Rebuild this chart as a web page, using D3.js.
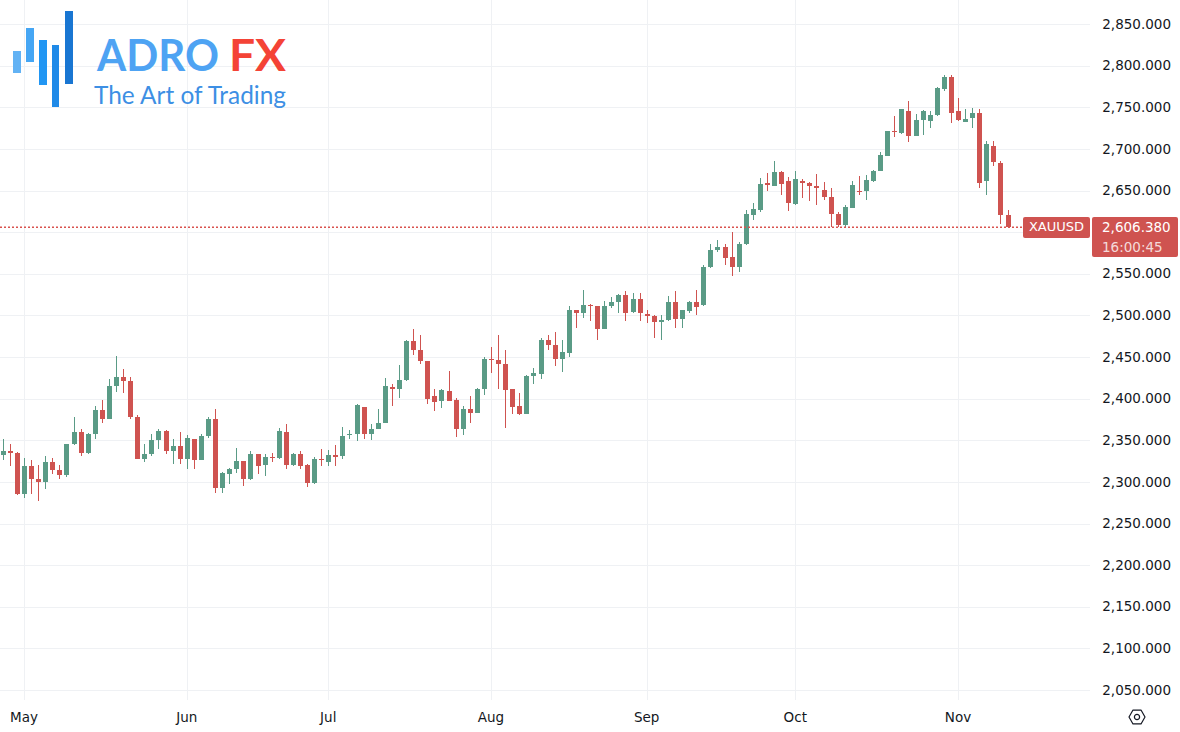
<!DOCTYPE html>
<html><head><meta charset="utf-8">
<script src="https://cdn.jsdelivr.net/npm/d3@7"></script>
<style>
html,body{margin:0;padding:0;background:#fff;overflow:hidden;}
svg{display:block;}
</style></head><body>
<svg id="c" width="1180" height="732"></svg>
<script>
const dates = [
"2024-04-26","2024-04-29","2024-04-30",
"2024-05-01","2024-05-02","2024-05-03","2024-05-06","2024-05-07","2024-05-08","2024-05-09","2024-05-10","2024-05-13","2024-05-14","2024-05-15","2024-05-16","2024-05-17","2024-05-20","2024-05-21","2024-05-22","2024-05-23","2024-05-24","2024-05-27","2024-05-28","2024-05-29","2024-05-30","2024-05-31",
"2024-06-03","2024-06-04","2024-06-05","2024-06-06","2024-06-07","2024-06-10","2024-06-11","2024-06-12","2024-06-13","2024-06-14","2024-06-17","2024-06-18","2024-06-19","2024-06-20","2024-06-21","2024-06-24","2024-06-25","2024-06-26","2024-06-27","2024-06-28",
"2024-07-01","2024-07-02","2024-07-03","2024-07-04","2024-07-05","2024-07-08","2024-07-09","2024-07-10","2024-07-11","2024-07-12","2024-07-15","2024-07-16","2024-07-17","2024-07-18","2024-07-19","2024-07-22","2024-07-23","2024-07-24","2024-07-25","2024-07-26","2024-07-29","2024-07-30","2024-07-31",
"2024-08-01","2024-08-02","2024-08-05","2024-08-06","2024-08-07","2024-08-08","2024-08-09","2024-08-12","2024-08-13","2024-08-14","2024-08-15","2024-08-16","2024-08-19","2024-08-20","2024-08-21","2024-08-22","2024-08-23","2024-08-26","2024-08-27","2024-08-28","2024-08-29","2024-08-30",
"2024-09-02","2024-09-03","2024-09-04","2024-09-05","2024-09-06","2024-09-09","2024-09-10","2024-09-11","2024-09-12","2024-09-13","2024-09-16","2024-09-17","2024-09-18","2024-09-19","2024-09-20","2024-09-23","2024-09-24","2024-09-25","2024-09-26","2024-09-27","2024-09-30",
"2024-10-01","2024-10-02","2024-10-03","2024-10-04","2024-10-07","2024-10-08","2024-10-09","2024-10-10","2024-10-11","2024-10-14","2024-10-15","2024-10-16","2024-10-17","2024-10-18","2024-10-21","2024-10-22","2024-10-23","2024-10-24","2024-10-25","2024-10-28","2024-10-29","2024-10-30","2024-10-31",
"2024-11-01","2024-11-04","2024-11-05","2024-11-06","2024-11-07","2024-11-08","2024-11-11","2024-11-12"
];
const open = [
2332,2337,2335,
2285,2319,2303,2300,2324,2314,2308,2346,2360,2335,2357,2386,2376,2415,2426,2421,2378,2328,2333,2350,2361,2337,2343,
2327,2351,2326,2355,2376,2293,2310,2316,2325,2303,2333,2320,2330,2329,2360,2320,2334,2320,2299,2328,
2324,2332,2331,2356,2357,2390,2358,2363,2371,2414,2411,2422,2469,2458,2445,2403,2397,2409,2398,2364,2388,2383,2411,
2448,2446,2442,2411,2391,2381,2427,2429,2470,2465,2448,2455,2506,2503,2513,2511,2484,2511,2516,2524,2504,2520,
2502,2499,2492,2495,2516,2496,2505,2516,2512,2558,2578,2582,2570,2558,2586,2621,2627,2659,2656,2672,2662,
2634,2662,2659,2655,2651,2642,2622,2608,2629,2650,2649,2662,2674,2692,2722,2719,2746,2715,2735,2733,2741,2772,2786,
2745,2732,2737,2743,2662,2704,2683,2621
];
const high = [
2352,2346,2336,
2329,2326,2320,2331,2329,2320,2346,2378,2363,2359,2391,2398,2423,2451,2435,2426,2380,2346,2358,2364,2362,2352,2360,
2356,2352,2357,2378,2388,2312,2317,2341,2325,2337,2333,2333,2335,2365,2369,2335,2337,2321,2330,2340,
2338,2344,2366,2362,2393,2390,2369,2387,2425,2418,2440,2470,2484,2476,2445,2412,2412,2433,2401,2391,2403,2413,2450,
2462,2477,2458,2412,2407,2428,2437,2473,2476,2480,2470,2511,2506,2531,2514,2511,2517,2522,2526,2529,2527,2527,
2507,2501,2501,2523,2529,2506,2517,2530,2560,2586,2590,2586,2600,2588,2626,2635,2665,2671,2686,2674,2666,
2674,2664,2660,2670,2660,2653,2624,2632,2661,2667,2669,2675,2696,2722,2740,2748,2758,2742,2747,2745,2774,2789,2789,
2761,2748,2749,2748,2710,2710,2686,2627
];
const low = [
2326,2319,2284,
2281,2285,2277,2292,2309,2304,2306,2344,2331,2333,2352,2371,2375,2408,2407,2375,2327,2324,2331,2339,2333,2322,2321,
2315,2316,2326,2353,2287,2287,2298,2311,2295,2302,2310,2307,2324,2328,2316,2319,2316,2294,2297,2319,
2319,2319,2328,2351,2349,2351,2350,2363,2371,2391,2401,2421,2452,2441,2393,2385,2389,2397,2354,2356,2371,2383,2404,
2431,2411,2365,2382,2380,2381,2417,2424,2459,2439,2432,2450,2485,2497,2493,2470,2484,2509,2503,2493,2503,2493,
2491,2473,2471,2493,2485,2485,2503,2501,2511,2557,2576,2561,2547,2552,2585,2615,2624,2650,2655,2644,2625,
2633,2641,2637,2633,2638,2606,2606,2605,2629,2644,2638,2660,2674,2691,2714,2718,2708,2715,2717,2725,2739,2770,2731,
2733,2732,2725,2653,2644,2680,2610,2605
];
const close = [
2337,2335,2285,
2319,2303,2300,2324,2314,2308,2346,2360,2335,2357,2386,2376,2415,2426,2421,2378,2328,2333,2350,2361,2337,2343,2327,
2353,2326,2355,2376,2293,2311,2316,2325,2303,2333,2319,2330,2329,2361,2320,2334,2319,2299,2328,2326,
2332,2330,2355,2358,2392,2358,2364,2371,2415,2411,2422,2469,2458,2445,2400,2396,2410,2397,2364,2387,2383,2411,2448,
2446,2441,2410,2390,2382,2427,2431,2471,2464,2447,2456,2507,2503,2513,2511,2484,2511,2516,2524,2503,2520,2503,
2499,2492,2495,2516,2496,2506,2516,2510,2558,2578,2582,2569,2558,2586,2622,2628,2658,2657,2672,2658,2635,
2664,2659,2656,2653,2642,2622,2608,2630,2657,2649,2663,2674,2693,2721,2720,2748,2715,2735,2746,2741,2773,2786,2743,
2735,2736,2743,2659,2706,2684,2620,2606.38
];
const priceTicks = [2050,2100,2150,2200,2250,2300,2350,2400,2450,2500,2550,2600,2650,2700,2750,2800,2850];
const monthNames = ["Jan","Feb","Mar","Apr","May","Jun","Jul","Aug","Sep","Oct","Nov","Dec"];
const symbol = "XAUUSD";
const lastPrice = 2606.38;
const countdown = "16:00:45";
const brandA = "ADRO", brandB = "FX", tagline = "The Art of Trading";

const W = 1180, H = 732, plotRight = 1090, plotBottom = 700;
const UP = "#5a9b86", DOWN = "#cf5350", GRID = "#eff1f4", TXT = "#131722";
const FONT = "'DejaVu Sans', Verdana, sans-serif";

const svg = d3.select("#c");
const data = dates.map((d,i)=>({d, o:open[i], h:high[i], l:low[i], c:close[i]}));

// x band scale: first bar of May centred at 24, first bar of Nov at 958
const step = (958-24)/132;
const x0 = 24 - 3.5*step;
const x = d3.scaleBand().domain(dates).range([x0, x0 + step*dates.length]).padding(0);
const cx = d => x(d) + x.bandwidth()/2;
const y = d3.scaleLinear().domain([2050, 2850]).range([690, 24]);

// grid
const grid = svg.append("g").attr("shape-rendering","crispEdges");
grid.selectAll("line.h").data(priceTicks).join("line")
  .attr("x1",0).attr("x2",plotRight)
  .attr("y1",d=>Math.round(y(d))+0.5).attr("y2",d=>Math.round(y(d))+0.5)
  .attr("stroke",GRID).attr("stroke-width",1);

const monthStarts = [];
dates.forEach((d,i)=>{ if(i>0 && d.slice(5,7)!==dates[i-1].slice(5,7)) monthStarts.push(d); });
grid.selectAll("line.v").data(monthStarts).join("line")
  .attr("x1",d=>Math.round(cx(d))+0.5).attr("x2",d=>Math.round(cx(d))+0.5)
  .attr("y1",0).attr("y2",plotBottom)
  .attr("stroke",GRID).attr("stroke-width",1);

// candles
svg.append("defs").append("clipPath").attr("id","clip")
  .append("rect").attr("x",0).attr("y",0).attr("width",plotRight).attr("height",plotBottom);
const cg = svg.append("g").attr("clip-path","url(#clip)").attr("shape-rendering","crispEdges");
const bw = 5;
const candle = cg.selectAll("g.c").data(data).join("g");
candle.append("rect")
  .attr("x",d=>Math.round(cx(d.d)))
  .attr("width",1)
  .attr("y",d=>y(d.h))
  .attr("height",d=>Math.max(1,y(d.l)-y(d.h)))
  .attr("fill",d=>d.c>=d.o?UP:DOWN);
candle.append("rect")
  .attr("x",d=>Math.round(cx(d.d))-2)
  .attr("width",bw)
  .attr("y",d=>y(Math.max(d.o,d.c)))
  .attr("height",d=>Math.max(1,Math.abs(y(d.o)-y(d.c))))
  .attr("fill",d=>d.c>=d.o?UP:DOWN);

// last price dotted line
const ly = y(lastPrice);
svg.append("line")
  .attr("x1",0).attr("x2",1022)
  .attr("y1",ly+0.5).attr("y2",ly+0.5)
  .attr("stroke","#d9534f").attr("stroke-width",1.4).attr("stroke-dasharray","2,2");

// y axis labels (labels hidden beneath the last-price label are skipped, as in the original)
const fmt = d3.format(",.3f");
svg.append("g").selectAll("text").data(priceTicks.filter(t=>Math.abs(y(t)-ly-10)>24)).join("text")
  .attr("x",1171).attr("y",d=>y(d)).attr("dy","0.35em")
  .attr("text-anchor","end")
  .attr("font-family",FONT).attr("font-size",13.5).attr("fill",TXT)
  .text(d=>fmt(d));

// x axis labels
svg.append("g").selectAll("text").data([dates.find(d=>d.slice(5,7)==="05"), ...monthStarts.filter(d=>d.slice(5,7)!=="05")]).join("text")
  .attr("x",d=>cx(d)).attr("y",717).attr("dy","0.35em")
  .attr("text-anchor","middle")
  .attr("font-family",FONT).attr("font-size",13.5).attr("fill",TXT)
  .text(d=>monthNames[+d.slice(5,7)-1]);

// settings icon
const ic = svg.append("g").attr("transform","translate(1137,717)");
const hex = d3.range(6).map(k=>{const a=Math.PI/3*k; return [8*Math.cos(a), 8*Math.sin(a)];});
ic.append("path").attr("d","M"+hex.map(p=>p.join(",")).join("L")+"Z")
  .attr("fill","none").attr("stroke",TXT).attr("stroke-width",1.2).attr("stroke-linejoin","round");
ic.append("circle").attr("r",2.6).attr("fill","none").attr("stroke",TXT).attr("stroke-width",1.2);

// price labels
svg.append("rect").attr("x",1023).attr("y",Math.round(ly)-10).attr("width",67).attr("height",21).attr("rx",2).attr("fill",DOWN);
svg.append("text").attr("x",1056.5).attr("y",ly).attr("dy","0.35em").attr("text-anchor","middle")
  .attr("font-family",FONT).attr("font-size",13).attr("fill","#fff").text(symbol);
svg.append("rect").attr("x",1092).attr("y",Math.round(ly)-10).attr("width",86).attr("height",40).attr("rx",2).attr("fill",DOWN);
svg.append("text").attr("x",1102).attr("y",ly).attr("dy","0.35em")
  .attr("font-family",FONT).attr("font-size",13.5).attr("fill","#fff").text(fmt(lastPrice));
svg.append("text").attr("x",1102).attr("y",ly+20).attr("dy","0.35em")
  .attr("font-family",FONT).attr("font-size",13.5).attr("fill","rgba(255,255,255,0.8)").text(countdown);

// logo
const logo = svg.append("g");
const bars = [[13,51,8,22,"#62b2f4"],[26,28,8,34,"#45a6f4"],[39,40,8,45,"#2196f3"],[52,45,7,62,"#1f8ae8"],[65,11,8,73,"#1976d2"]];
logo.selectAll("rect").data(bars).join("rect")
  .attr("x",d=>d[0]).attr("y",d=>d[1]).attr("width",d=>d[2]).attr("height",d=>d[3]).attr("fill",d=>d[4]);
logo.append("text").attr("x",97).attr("y",71).attr("font-family","Lato, sans-serif").attr("font-weight",700)
  .attr("font-size",44).attr("fill","#4ea3f3").attr("textLength",122).attr("lengthAdjust","spacingAndGlyphs").text(brandA);
logo.append("text").attr("x",229).attr("y",71).attr("font-family","Lato, sans-serif").attr("font-weight",700)
  .attr("font-size",44).attr("fill","#f44336").attr("textLength",57).attr("lengthAdjust","spacingAndGlyphs").text(brandB);
logo.append("text").attr("x",94).attr("y",104).attr("font-family","Lato, sans-serif").attr("font-weight",400)
  .attr("font-size",25).attr("fill","#3d8fe4").attr("textLength",192).attr("lengthAdjust","spacingAndGlyphs").text(tagline);
</script>
</body></html>
